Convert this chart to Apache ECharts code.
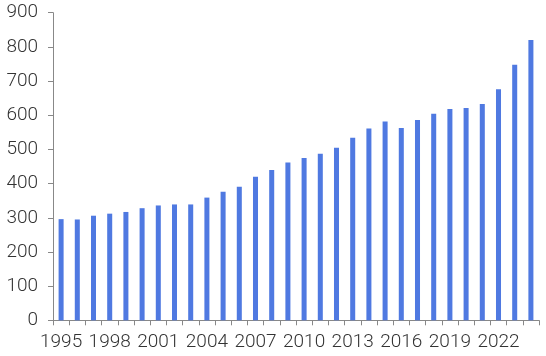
<!DOCTYPE html>
<html>
<head>
<meta charset="utf-8">
<script src="https://cdn.jsdelivr.net/npm/echarts@6/dist/echarts.min.js"></script>
<style>html,body{margin:0;padding:0;background:#fff}#c{width:546px;height:356px}</style>
</head>
<body>
<div id="c"></div>
<script>
const years = ['1995','1996','1997','1998','1999','2000','2001','2002','2003','2004','2005','2006','2007','2008','2009','2010','2011','2012','2013','2014','2015','2016','2017','2018','2019','2020','2021','2022','2023','2024'];
const values = [296,295,306,312,317,328,336,339,339,359,376,391,420,440,462,475,487,505,534,561,582,563,586,604,618,621,633,676,748,820];
const yTicks = [0,100,200,300,400,500,600,700,800,900];

const chart = echarts.init(document.getElementById('c'), null, {renderer:'canvas'});
const font = {fontFamily:'Roboto', fontWeight:300, fontSize:19, color:'#333'};
chart.setOption({
  animation:false,
  grid:{left:53, right:7, top:12.7, bottom:35.7, containLabel:false},
  xAxis:{
    type:'category', data:years, boundaryGap:true,
    axisLine:{lineStyle:{color:'#888', width:1}},
    axisTick:{show:true, interval:0, length:5, lineStyle:{color:'#888'}},
    axisLabel:Object.assign({interval:2, margin:12}, font),
    splitLine:{show:false}
  },
  yAxis:{
    type:'value', min:yTicks[0], max:yTicks[yTicks.length-1], interval:100,
    axisLine:{show:true, lineStyle:{color:'#888', width:1}},
    axisTick:{show:true, length:5, lineStyle:{color:'#888'}},
    axisLabel:Object.assign({margin:15}, font),
    splitLine:{show:false}
  },
  series:[{
    type:'bar', data:values, barWidth:'31%',
    itemStyle:{color:'#4f79e1'}
  }]
});
</script>
</body>
</html>
